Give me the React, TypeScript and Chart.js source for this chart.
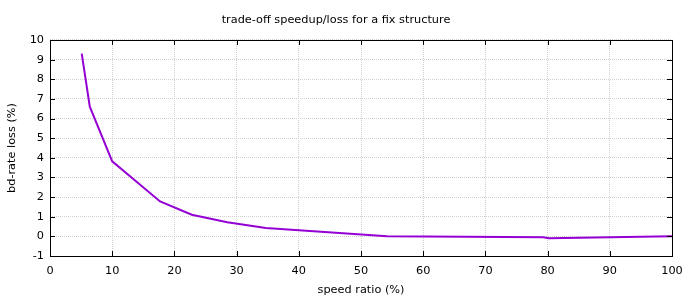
import React, { useEffect, useRef } from "react";
import { Chart, registerables } from "chart.js";

Chart.register(...registerables);

const speedRatio = [5.1, 6.4, 10, 17.7, 22.8, 28.5, 34.7, 54.2, 79.3, 80.2, 100];
const bdRateLoss = [9.3, 6.6, 3.82, 1.78, 1.1, 0.72, 0.42, 0.0, -0.05, -0.1, 0.0];
const xTicks = [0, 10, 20, 30, 40, 50, 60, 70, 80, 90, 100];
const yTicks = [-1, 0, 1, 2, 3, 4, 5, 6, 7, 8, 9, 10];

const titleText = "trade-off speedup/loss for a fix structure";
const xTitle = "speed ratio (%)";
const yTitle = "bd-rate loss (%)";

const FONT = "'DejaVu Sans', sans-serif";
const FS = 11.3;

const frame = {
  id: "frame",
  afterDraw(chart: any) {
    const { ctx, chartArea: a, scales } = chart;
    ctx.save();
    ctx.strokeStyle = "#000";
    ctx.lineWidth = 1;
    ctx.beginPath();
    const tl = 5;
    xTicks.forEach((v) => {
      const x = Math.round(scales.x.getPixelForValue(v)) + 0.5;
      ctx.moveTo(x, a.bottom);
      ctx.lineTo(x, a.bottom - tl);
      ctx.moveTo(x, a.top);
      ctx.lineTo(x, a.top + tl);
    });
    yTicks.forEach((v) => {
      const y = Math.round(scales.y.getPixelForValue(v)) + 0.5;
      ctx.moveTo(a.left, y);
      ctx.lineTo(a.left + tl, y);
      ctx.moveTo(a.right, y);
      ctx.lineTo(a.right - tl, y);
    });
    ctx.stroke();
    const l = Math.round(a.left) + 0.5;
    const r = Math.round(a.right) + 0.5;
    const t = Math.round(a.top) + 0.5;
    const b = Math.round(a.bottom) + 0.5;
    ctx.strokeRect(l, t, r - l, b - t);
    ctx.restore();
  },
};

export default function App() {
  const ref = useRef<HTMLCanvasElement | null>(null);
  useEffect(() => {
    const chart = new Chart(ref.current as HTMLCanvasElement, {
      type: "line",
      data: {
        datasets: [
          {
            data: speedRatio.map((x, i) => ({ x, y: bdRateLoss[i] })),
            borderColor: "#9400d3",
            borderWidth: 2,
            pointRadius: 0,
            tension: 0,
            fill: false,
          },
        ],
      },
      options: {
        animation: false,
        responsive: false,
        layout: { padding: { left: 0, right: 20, top: 0, bottom: 0 } },
        plugins: {
          legend: { display: false },
          tooltip: { enabled: false },
          title: {
            display: true,
            text: titleText,
            color: "#000",
            font: { family: FONT, size: FS, weight: "normal" },
            padding: { top: 13, bottom: 13.4 },
          },
        },
        scales: {
          x: {
            type: "linear",
            min: 0,
            max: 100,
            afterBuildTicks: (s: any) => {
              s.ticks = xTicks.map((v) => ({ value: v }));
            },
            afterFit: (s: any) => {
              s.height = 43;
            },
            ticks: { color: "#000", font: { family: FONT, size: FS }, padding: 8, maxRotation: 0 },
            grid: { color: "#d0d0d0", drawTicks: false, lineWidth: 1 },
            border: { display: false, dash: [1, 1] },
            title: {
              display: true,
              text: xTitle,
              color: "#000",
              font: { family: FONT, size: FS },
              padding: { top: 4, bottom: 2 },
            },
          },
          y: {
            type: "linear",
            min: -1,
            max: 10,
            afterBuildTicks: (s: any) => {
              s.ticks = yTicks.map((v) => ({ value: v }));
            },
            afterFit: (s: any) => {
              s.width = 50;
            },
            ticks: { color: "#000", font: { family: FONT, size: FS }, padding: 6 },
            grid: { color: "#d0d0d0", drawTicks: false, lineWidth: 1 },
            border: { display: false, dash: [1, 1] },
            title: {
              display: true,
              text: yTitle,
              color: "#000",
              font: { family: FONT, size: FS },
              padding: { top: 5, bottom: 4 },
            },
          },
        },
      },
      plugins: [frame],
    } as any);
    return () => chart.destroy();
  }, []);
  return (
    <div style={{ position: "fixed", left: 0, top: 0, width: 692, height: 299, background: "#fff" }}>
      <canvas ref={ref} width={692} height={299} style={{ width: 692, height: 299 }} />
    </div>
  );
}
